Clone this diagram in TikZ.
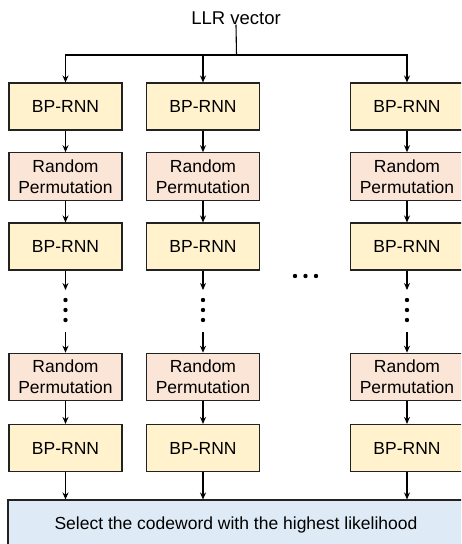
\documentclass[tikz,border=0pt]{standalone}
\usepackage{fontspec}
\setmainfont{Liberation Sans}
\usetikzlibrary{arrows.meta}
\definecolor{bpfill}{HTML}{FFF2CC}
\definecolor{rpfill}{HTML}{FBE5D6}
\definecolor{selfill}{HTML}{DEEBF7}
\definecolor{edge}{HTML}{222222}
\tikzset{
  box/.style={draw=edge, line width=1.1pt, minimum width=113pt, inner sep=0pt, align=center,
    font=\fontsize{17.5}{21}\selectfont},
  bp/.style={box, fill=bpfill, minimum height=47pt},
  rp/.style={box, fill=rpfill, minimum height=47.5pt},
  arr/.style={draw=black, line width=1.1pt, -{Stealth[length=7pt,width=6pt]}},
  ln/.style={draw=black, line width=1.1pt},
  dot/.style={circle, fill=black, inner sep=0pt, minimum size=4.4pt},
}
\begin{document}
\begin{tikzpicture}[x=1pt,y=1pt]
\useasboundingbox (0,0) rectangle (461,-544);
\begin{scope}
\clip (0,0) rectangle (461,-544);
% LLR
\node[font=\fontsize{18.5}{22}\selectfont, inner sep=0pt] (llr) at (236,-18) {LLR vector};
\coordinate (junc) at (236.5,-55);
% column centres
\foreach \c/\x in {1/65.5, 2/203, 3/407}{
  \node[bp] (b1\c) at (\x,-106.5) {BP-RNN};
  \node[rp] (r1\c) at (\x,-176.5) {Random\\Permutation};
  \node[bp] (b2\c) at (\x,-246.5) {BP-RNN};
  \coordinate (a\c) at (\x,-290);
  \node[dot] (d1\c) at (\x,-300) {};
  \node[dot] (d2\c) at (\x,-310) {};
  \node[dot] (d3\c) at (\x,-320) {};
  \coordinate (s\c) at (\x,-332);
  \node[rp] (r2\c) at (\x,-377) {Random\\Permutation};
  \node[bp] (b3\c) at (\x,-448) {BP-RNN};
}
\node[draw=edge, line width=1.1pt, fill=selfill, minimum width=456pt, minimum height=50pt,
  inner sep=0pt, font=\fontsize{17.5}{21}\selectfont] (sel) at (236,-525) {Select the codeword with the highest likelihood};
% horizontal dots
\node[dot] (h1) at (295,-276) {};
\node[dot] (h2) at (305.5,-276) {};
\node[dot] (h3) at (316,-276) {};
% connectors
\draw[ln] (llr.south) -- (junc);
\foreach \c in {1,2,3}{
  \draw[arr] (junc) -| (b1\c.north);
  \draw[arr] (b1\c) -- (r1\c);
  \draw[arr] (r1\c) -- (b2\c);
  \draw[arr] (b2\c) -- (a\c);
  \draw[arr] (s\c) -- (r2\c);
  \draw[arr] (r2\c) -- (b3\c);
  \draw[arr] (b3\c.south) -- (b3\c.south |- sel.north);
}
\end{scope}
\end{tikzpicture}
\end{document}
